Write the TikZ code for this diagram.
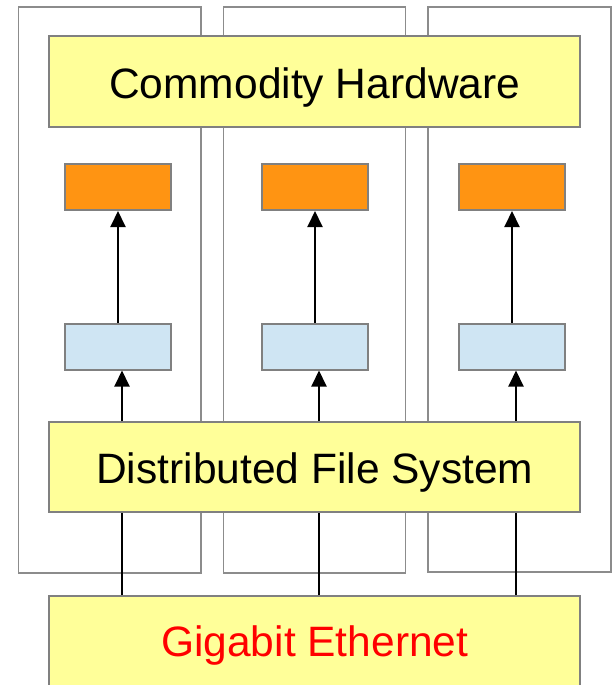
\documentclass[tikz,border=0pt]{standalone}
\usepackage{fontspec}
\setmainfont{Liberation Sans}
\usetikzlibrary{arrows.meta}
\definecolor{boxyellow}{HTML}{FFFF99}
\definecolor{boxorange}{HTML}{FF9412}
\definecolor{boxblue}{HTML}{CFE5F3}
\definecolor{edgegray}{HTML}{808080}
\definecolor{panelgray}{HTML}{8C8C8C}
\tikzset{
  panel/.style={draw=panelgray, line width=1.6pt, fill=white},
  layer/.style={draw=edgegray, line width=2pt, fill=boxyellow, inner sep=0pt,
    minimum width=531pt, text depth=0pt,
    font=\fontsize{42.5}{50}\selectfont},
  task/.style={draw=edgegray, line width=2pt, inner sep=0pt,
    minimum width=106pt, minimum height=46pt},
  mapbox/.style={task, fill=boxorange},
  inbox/.style={task, fill=boxblue},
  arr/.style={line width=2pt, -{Triangle[width=15pt,length=16pt]}},
  link/.style={line width=2pt},
}
\begin{document}
\begin{tikzpicture}[x=1pt, y=-1pt]
  \useasboundingbox (0,0) rectangle (611,685);

  % three machine panels
  \draw[panel] (18.5,7) rectangle (201,573);
  \draw[panel] (223.5,7) rectangle (405.5,573);
  \draw[panel] (428,7) rectangle (611,572);

  % horizontal layers
  \node[layer, minimum height=91pt, text height=33pt] (hw) at (314.75,81.5) {Commodity Hardware};
  \node[layer, minimum height=90pt, text height=33pt] (dfs) at (314.75,467) {Distributed File System};
  \node[layer, minimum height=94pt, text height=26pt, text=red] (eth) at (314.75,643) {Gigabit Ethernet};

  % per-machine boxes
  \node[mapbox] (o1) at (118,187) {};
  \node[mapbox] (o2) at (315,187) {};
  \node[mapbox] (o3) at (512,187) {};
  \node[inbox] (b1) at (118,346.5) {};
  \node[inbox] (b2) at (315,346.5) {};
  \node[inbox] (b3) at (512,346.5) {};

  % arrows between boxes and from the file system
  \foreach \i in {1,2,3} {
    \draw[arr] (b\i.north) -- (o\i.south);
    \draw[arr] ([xshift=4pt]b\i.south |- dfs.north) -- ([xshift=4pt]b\i.south);
    \draw[link] ([xshift=4pt]b\i.south |- eth.north) -- ([xshift=4pt]b\i.south |- dfs.south);
  }
\end{tikzpicture}
\end{document}
